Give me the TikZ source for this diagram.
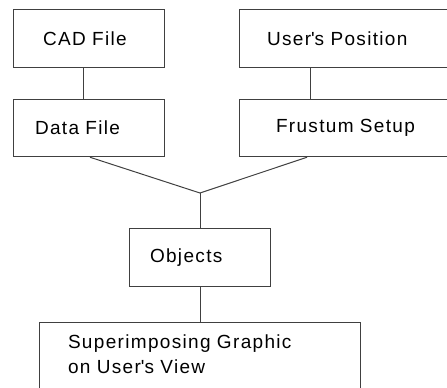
\documentclass[tikz,border=0pt]{standalone}
\usepackage{fontspec}
\setmainfont{Liberation Sans}[LetterSpace=7]
\begin{document}
\begin{tikzpicture}[x=1pt, y=-1pt, line width=1pt,
    blk/.style={draw=black!75, rectangle, align=left, inner ysep=0pt,
        minimum height=57.5pt, font=\fontsize{19}{25}\selectfont},
    wire/.style={draw=black!75}]
    \path[use as bounding box, clip] (0,0) rectangle (447,388);
    \node[blk, text width=91pt, inner xsep=30pt] (cad) at (88.5,38.5) {CAD File};
    \node[blk, text width=107pt, inner xsep=22pt] (data) at (88.5,128) {Data File};
    \node[blk, text width=164pt, inner xsep=28pt] (pos) at (349,38.5) {User\textquotesingle s Position};
    \node[blk, text width=146pt, inner xsep=37pt] (frus) at (349,128) {Frustum Setup};
    \node[blk, text width=99pt, inner xsep=21pt, minimum height=58.5pt] (obj) at (199.5,257.5) {Objects};
    \node[blk, anchor=north, text width=263pt, inner xsep=29pt, inner ysep=12pt]
        (sup) at (199.5,322) {Superimposing Graphic\\on User\textquotesingle s View\rule[-30pt]{0pt}{30pt}};
    \coordinate (join) at (200,193);
    \draw[wire] ([xshift=-5.5pt]cad.south) -- ([xshift=-5.5pt]data.north);
    \draw[wire] ([xshift=-39pt]pos.south) -- ([xshift=-39pt]frus.north);
    \draw[wire] ([xshift=1.5pt]data.south) -- (join) -- ([xshift=-42pt]frus.south);
    \draw[wire] (join) -- ([xshift=0.5pt]obj.north);
    \draw[wire] ([xshift=0.5pt]obj.south) -- ([xshift=0.5pt]sup.north);
\end{tikzpicture}
\end{document}
